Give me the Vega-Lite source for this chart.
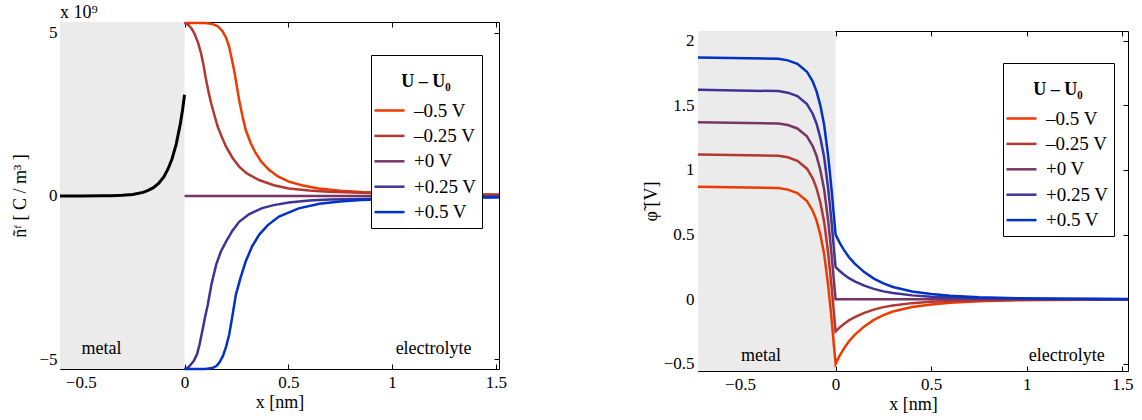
{
  "$schema": "https://vega.github.io/schema/vega-lite/v6.json",
  "padding": {"left": 11, "top": 3, "right": 0, "bottom": 0},
  "background": "white",
  "spacing": 133,
  "resolve": {"scale": {"x": "independent", "y": "independent", "color": "independent"}, "legend": {"color": "independent"}},
  "config": {
    "font": "Liberation Serif",
    "view": {"stroke": "black", "strokeWidth": 1},
    "axis": {"grid": false, "domain": false, "format": "~g", "labelFont": "Liberation Serif", "labelFontSize": 17, "labelColor": "black", "titleFont": "Liberation Serif", "titleFontSize": 18, "titleFontWeight": "normal", "titleColor": "black", "tickColor": "black", "tickWidth": 1, "tickSize": -5},
    "axisBottom": {"labelPadding": 10, "titlePadding": 3},
    "axisLeft": {"labelPadding": 8, "titlePadding": 9},
    "title": {"font": "Liberation Serif"},
    "text": {"font": "Liberation Serif"},
    "legend": {"orient": "none", "titleFont": "Liberation Serif", "titleFontSize": 18, "titleFontWeight": "bold", "titleColor": "black", "titleAnchor": "middle", "titleLineHeight": 13, "labelFont": "Liberation Serif", "labelFontSize": 19, "labelColor": "black", "symbolType": "M-1.5,0H1.5", "symbolSize": 400, "symbolStrokeWidth": 2.5, "symbolOffset": 2, "strokeColor": "black", "fillColor": "white", "padding": 5, "rowPadding": 3.4, "titlePadding": 8, "labelOffset": 13}
  },
  "datasets": {
    "L": [
      {"x":0,"y":5.3,"s":"–0.5 V"},{"x":0.05,"y":5.3,"s":"–0.5 V"},{"x":0.1,"y":5.3,"s":"–0.5 V"},{"x":0.134,"y":5.27,"s":"–0.5 V"},{"x":0.16,"y":5.2,"s":"–0.5 V"},{"x":0.183,"y":5.05,"s":"–0.5 V"},{"x":0.2,"y":4.85,"s":"–0.5 V"},{"x":0.215,"y":4.57,"s":"–0.5 V"},{"x":0.239,"y":3.85,"s":"–0.5 V"},{"x":0.263,"y":2.94,"s":"–0.5 V"},{"x":0.28,"y":2.42,"s":"–0.5 V"},{"x":0.295,"y":2.02,"s":"–0.5 V"},{"x":0.32,"y":1.6,"s":"–0.5 V"},{"x":0.343,"y":1.31,"s":"–0.5 V"},{"x":0.37,"y":1.05,"s":"–0.5 V"},{"x":0.407,"y":0.8,"s":"–0.5 V"},{"x":0.45,"y":0.6,"s":"–0.5 V"},{"x":0.502,"y":0.44,"s":"–0.5 V"},{"x":0.57,"y":0.32,"s":"–0.5 V"},{"x":0.646,"y":0.23,"s":"–0.5 V"},{"x":0.75,"y":0.16,"s":"–0.5 V"},{"x":0.85,"y":0.12,"s":"–0.5 V"},{"x":1.0,"y":0.09,"s":"–0.5 V"},{"x":1.2,"y":0.06,"s":"–0.5 V"},{"x":1.515,"y":0.04,"s":"–0.5 V"},
      {"x":0,"y":5.3,"s":"–0.25 V"},{"x":0.02,"y":5.23,"s":"–0.25 V"},{"x":0.035,"y":5.12,"s":"–0.25 V"},{"x":0.048,"y":4.97,"s":"–0.25 V"},{"x":0.065,"y":4.7,"s":"–0.25 V"},{"x":0.08,"y":4.36,"s":"–0.25 V"},{"x":0.092,"y":3.98,"s":"–0.25 V"},{"x":0.104,"y":3.55,"s":"–0.25 V"},{"x":0.116,"y":3.18,"s":"–0.25 V"},{"x":0.128,"y":2.84,"s":"–0.25 V"},{"x":0.145,"y":2.45,"s":"–0.25 V"},{"x":0.16,"y":2.12,"s":"–0.25 V"},{"x":0.18,"y":1.8,"s":"–0.25 V"},{"x":0.2,"y":1.51,"s":"–0.25 V"},{"x":0.23,"y":1.18,"s":"–0.25 V"},{"x":0.263,"y":0.9,"s":"–0.25 V"},{"x":0.3,"y":0.69,"s":"–0.25 V"},{"x":0.359,"y":0.49,"s":"–0.25 V"},{"x":0.43,"y":0.33,"s":"–0.25 V"},{"x":0.502,"y":0.23,"s":"–0.25 V"},{"x":0.6,"y":0.17,"s":"–0.25 V"},{"x":0.694,"y":0.13,"s":"–0.25 V"},{"x":0.85,"y":0.1,"s":"–0.25 V"},{"x":1.0,"y":0.08,"s":"–0.25 V"},{"x":1.2,"y":0.06,"s":"–0.25 V"},{"x":1.515,"y":0.04,"s":"–0.25 V"},
      {"x":0,"y":0,"s":"+0 V"},{"x":0.5,"y":0,"s":"+0 V"},{"x":1.0,"y":0,"s":"+0 V"},{"x":1.515,"y":0,"s":"+0 V"},
      {"x":0,"y":-5.3,"s":"+0.25 V"},{"x":0.02,"y":-5.24,"s":"+0.25 V"},{"x":0.045,"y":-5.05,"s":"+0.25 V"},{"x":0.06,"y":-4.85,"s":"+0.25 V"},{"x":0.072,"y":-4.56,"s":"+0.25 V"},{"x":0.09,"y":-4.0,"s":"+0.25 V"},{"x":0.1,"y":-3.68,"s":"+0.25 V"},{"x":0.112,"y":-3.33,"s":"+0.25 V"},{"x":0.13,"y":-2.7,"s":"+0.25 V"},{"x":0.152,"y":-2.11,"s":"+0.25 V"},{"x":0.175,"y":-1.7,"s":"+0.25 V"},{"x":0.2,"y":-1.4,"s":"+0.25 V"},{"x":0.23,"y":-1.07,"s":"+0.25 V"},{"x":0.263,"y":-0.79,"s":"+0.25 V"},{"x":0.31,"y":-0.56,"s":"+0.25 V"},{"x":0.374,"y":-0.37,"s":"+0.25 V"},{"x":0.43,"y":-0.28,"s":"+0.25 V"},{"x":0.502,"y":-0.2,"s":"+0.25 V"},{"x":0.6,"y":-0.14,"s":"+0.25 V"},{"x":0.7,"y":-0.11,"s":"+0.25 V"},{"x":0.85,"y":-0.09,"s":"+0.25 V"},{"x":1.0,"y":-0.07,"s":"+0.25 V"},{"x":1.2,"y":-0.055,"s":"+0.25 V"},{"x":1.515,"y":-0.04,"s":"+0.25 V"},
      {"x":0,"y":-5.3,"s":"+0.5 V"},{"x":0.05,"y":-5.3,"s":"+0.5 V"},{"x":0.1,"y":-5.3,"s":"+0.5 V"},{"x":0.134,"y":-5.27,"s":"+0.5 V"},{"x":0.155,"y":-5.2,"s":"+0.5 V"},{"x":0.17,"y":-5.08,"s":"+0.5 V"},{"x":0.185,"y":-4.9,"s":"+0.5 V"},{"x":0.2,"y":-4.62,"s":"+0.5 V"},{"x":0.215,"y":-4.25,"s":"+0.5 V"},{"x":0.23,"y":-3.7,"s":"+0.5 V"},{"x":0.247,"y":-3.03,"s":"+0.5 V"},{"x":0.27,"y":-2.5,"s":"+0.5 V"},{"x":0.295,"y":-2.0,"s":"+0.5 V"},{"x":0.325,"y":-1.55,"s":"+0.5 V"},{"x":0.359,"y":-1.19,"s":"+0.5 V"},{"x":0.4,"y":-0.9,"s":"+0.5 V"},{"x":0.455,"y":-0.63,"s":"+0.5 V"},{"x":0.55,"y":-0.38,"s":"+0.5 V"},{"x":0.65,"y":-0.24,"s":"+0.5 V"},{"x":0.75,"y":-0.17,"s":"+0.5 V"},{"x":0.85,"y":-0.12,"s":"+0.5 V"},{"x":1.0,"y":-0.09,"s":"+0.5 V"},{"x":1.2,"y":-0.06,"s":"+0.5 V"},{"x":1.515,"y":-0.04,"s":"+0.5 V"}
    ],
    "M": [
      {"x":-0.6,"y":0},{"x":-0.5,"y":0.002},{"x":-0.4,"y":0.004},{"x":-0.35,"y":0.009},{"x":-0.3,"y":0.021},{"x":-0.25,"y":0.048},{"x":-0.2,"y":0.11},{"x":-0.175,"y":0.17},{"x":-0.15,"y":0.255},{"x":-0.125,"y":0.385},{"x":-0.1,"y":0.585},{"x":-0.08,"y":0.82},{"x":-0.06,"y":1.14},{"x":-0.04,"y":1.59},{"x":-0.02,"y":2.22},{"x":-0.01,"y":2.62},{"x":0,"y":3.1}
    ],
    "R": [
      {"x":-0.72,"y":0.87,"s":"–0.5 V"},{"x":-0.3,"y":0.86,"s":"–0.5 V"},{"x":-0.25,"y":0.848,"s":"–0.5 V"},{"x":-0.2,"y":0.821,"s":"–0.5 V"},{"x":-0.15,"y":0.76,"s":"–0.5 V"},{"x":-0.12,"y":0.685,"s":"–0.5 V"},{"x":-0.1,"y":0.61,"s":"–0.5 V"},{"x":-0.08,"y":0.5,"s":"–0.5 V"},{"x":-0.06,"y":0.35,"s":"–0.5 V"},{"x":-0.04,"y":0.12,"s":"–0.5 V"},{"x":-0.03,"y":-0.02,"s":"–0.5 V"},{"x":-0.02,"y":-0.17,"s":"–0.5 V"},{"x":-0.01,"y":-0.34,"s":"–0.5 V"},{"x":0,"y":-0.5,"s":"–0.5 V"},
      {"x":0.02,"y":-0.44,"s":"–0.5 V"},{"x":0.04,"y":-0.39,"s":"–0.5 V"},{"x":0.07,"y":-0.325,"s":"–0.5 V"},{"x":0.1,"y":-0.275,"s":"–0.5 V"},{"x":0.15,"y":-0.21,"s":"–0.5 V"},{"x":0.2,"y":-0.16,"s":"–0.5 V"},{"x":0.25,"y":-0.123,"s":"–0.5 V"},{"x":0.3,"y":-0.095,"s":"–0.5 V"},{"x":0.4,"y":-0.06,"s":"–0.5 V"},{"x":0.5,"y":-0.04,"s":"–0.5 V"},{"x":0.6,"y":-0.027,"s":"–0.5 V"},{"x":0.75,"y":-0.015,"s":"–0.5 V"},{"x":0.9,"y":-0.009,"s":"–0.5 V"},{"x":1.1,"y":-0.005,"s":"–0.5 V"},{"x":1.3,"y":-0.003,"s":"–0.5 V"},{"x":1.53,"y":-0.001,"s":"–0.5 V"},
      {"x":-0.72,"y":1.12,"s":"–0.25 V"},{"x":-0.3,"y":1.11,"s":"–0.25 V"},{"x":-0.25,"y":1.098,"s":"–0.25 V"},{"x":-0.2,"y":1.071,"s":"–0.25 V"},{"x":-0.15,"y":1.01,"s":"–0.25 V"},{"x":-0.12,"y":0.935,"s":"–0.25 V"},{"x":-0.1,"y":0.86,"s":"–0.25 V"},{"x":-0.08,"y":0.75,"s":"–0.25 V"},{"x":-0.06,"y":0.6,"s":"–0.25 V"},{"x":-0.04,"y":0.37,"s":"–0.25 V"},{"x":-0.03,"y":0.23,"s":"–0.25 V"},{"x":-0.02,"y":0.08,"s":"–0.25 V"},{"x":-0.01,"y":-0.09,"s":"–0.25 V"},{"x":0,"y":-0.25,"s":"–0.25 V"},
      {"x":0.02,"y":-0.22,"s":"–0.25 V"},{"x":0.04,"y":-0.195,"s":"–0.25 V"},{"x":0.07,"y":-0.163,"s":"–0.25 V"},{"x":0.1,"y":-0.138,"s":"–0.25 V"},{"x":0.15,"y":-0.105,"s":"–0.25 V"},{"x":0.2,"y":-0.08,"s":"–0.25 V"},{"x":0.25,"y":-0.061,"s":"–0.25 V"},{"x":0.3,"y":-0.048,"s":"–0.25 V"},{"x":0.4,"y":-0.03,"s":"–0.25 V"},{"x":0.5,"y":-0.02,"s":"–0.25 V"},{"x":0.6,"y":-0.014,"s":"–0.25 V"},{"x":0.75,"y":-0.008,"s":"–0.25 V"},{"x":0.9,"y":-0.005,"s":"–0.25 V"},{"x":1.1,"y":-0.002,"s":"–0.25 V"},{"x":1.3,"y":-0.001,"s":"–0.25 V"},{"x":1.53,"y":0,"s":"–0.25 V"},
      {"x":-0.72,"y":1.37,"s":"+0 V"},{"x":-0.3,"y":1.36,"s":"+0 V"},{"x":-0.25,"y":1.348,"s":"+0 V"},{"x":-0.2,"y":1.321,"s":"+0 V"},{"x":-0.15,"y":1.26,"s":"+0 V"},{"x":-0.12,"y":1.185,"s":"+0 V"},{"x":-0.1,"y":1.11,"s":"+0 V"},{"x":-0.08,"y":1.0,"s":"+0 V"},{"x":-0.06,"y":0.85,"s":"+0 V"},{"x":-0.04,"y":0.62,"s":"+0 V"},{"x":-0.03,"y":0.48,"s":"+0 V"},{"x":-0.02,"y":0.33,"s":"+0 V"},{"x":-0.01,"y":0.16,"s":"+0 V"},{"x":0,"y":0,"s":"+0 V"},
      {"x":0.5,"y":0,"s":"+0 V"},{"x":1.0,"y":0,"s":"+0 V"},{"x":1.53,"y":0,"s":"+0 V"},
      {"x":-0.72,"y":1.62,"s":"+0.25 V"},{"x":-0.3,"y":1.61,"s":"+0.25 V"},{"x":-0.25,"y":1.598,"s":"+0.25 V"},{"x":-0.2,"y":1.571,"s":"+0.25 V"},{"x":-0.15,"y":1.51,"s":"+0.25 V"},{"x":-0.12,"y":1.435,"s":"+0.25 V"},{"x":-0.1,"y":1.36,"s":"+0.25 V"},{"x":-0.08,"y":1.25,"s":"+0.25 V"},{"x":-0.06,"y":1.1,"s":"+0.25 V"},{"x":-0.04,"y":0.87,"s":"+0.25 V"},{"x":-0.03,"y":0.73,"s":"+0.25 V"},{"x":-0.02,"y":0.58,"s":"+0.25 V"},{"x":-0.01,"y":0.41,"s":"+0.25 V"},{"x":0,"y":0.25,"s":"+0.25 V"},
      {"x":0.02,"y":0.22,"s":"+0.25 V"},{"x":0.04,"y":0.195,"s":"+0.25 V"},{"x":0.07,"y":0.163,"s":"+0.25 V"},{"x":0.1,"y":0.138,"s":"+0.25 V"},{"x":0.15,"y":0.105,"s":"+0.25 V"},{"x":0.2,"y":0.08,"s":"+0.25 V"},{"x":0.25,"y":0.061,"s":"+0.25 V"},{"x":0.3,"y":0.048,"s":"+0.25 V"},{"x":0.4,"y":0.03,"s":"+0.25 V"},{"x":0.5,"y":0.02,"s":"+0.25 V"},{"x":0.6,"y":0.014,"s":"+0.25 V"},{"x":0.75,"y":0.008,"s":"+0.25 V"},{"x":0.9,"y":0.005,"s":"+0.25 V"},{"x":1.1,"y":0.002,"s":"+0.25 V"},{"x":1.3,"y":0.001,"s":"+0.25 V"},{"x":1.53,"y":0,"s":"+0.25 V"},
      {"x":-0.72,"y":1.87,"s":"+0.5 V"},{"x":-0.3,"y":1.86,"s":"+0.5 V"},{"x":-0.25,"y":1.848,"s":"+0.5 V"},{"x":-0.2,"y":1.821,"s":"+0.5 V"},{"x":-0.15,"y":1.76,"s":"+0.5 V"},{"x":-0.12,"y":1.685,"s":"+0.5 V"},{"x":-0.1,"y":1.61,"s":"+0.5 V"},{"x":-0.08,"y":1.5,"s":"+0.5 V"},{"x":-0.06,"y":1.35,"s":"+0.5 V"},{"x":-0.04,"y":1.12,"s":"+0.5 V"},{"x":-0.03,"y":0.98,"s":"+0.5 V"},{"x":-0.02,"y":0.83,"s":"+0.5 V"},{"x":-0.01,"y":0.66,"s":"+0.5 V"},{"x":0,"y":0.5,"s":"+0.5 V"},
      {"x":0.02,"y":0.44,"s":"+0.5 V"},{"x":0.04,"y":0.39,"s":"+0.5 V"},{"x":0.07,"y":0.325,"s":"+0.5 V"},{"x":0.1,"y":0.275,"s":"+0.5 V"},{"x":0.15,"y":0.21,"s":"+0.5 V"},{"x":0.2,"y":0.16,"s":"+0.5 V"},{"x":0.25,"y":0.123,"s":"+0.5 V"},{"x":0.3,"y":0.095,"s":"+0.5 V"},{"x":0.4,"y":0.06,"s":"+0.5 V"},{"x":0.5,"y":0.04,"s":"+0.5 V"},{"x":0.6,"y":0.027,"s":"+0.5 V"},{"x":0.75,"y":0.015,"s":"+0.5 V"},{"x":0.9,"y":0.009,"s":"+0.5 V"},{"x":1.1,"y":0.005,"s":"+0.5 V"},{"x":1.3,"y":0.003,"s":"+0.5 V"},{"x":1.53,"y":0.001,"s":"+0.5 V"}
    ]
  },
  "hconcat": [
    {
      "width": 439,
      "height": 347,
      "title": {"text": "x 10⁹", "anchor": "start", "frame": "group", "font": "Liberation Serif", "fontSize": 18, "fontWeight": "normal", "color": "black", "offset": -4},
      "resolve": {"axis": {"x": "independent", "y": "independent"}},
      "layer": [
        {
          "data": {"values": [{"a": -0.6, "b": 0}]},
          "mark": {"type": "rect", "color": "#ebebeb"},
          "encoding": {
            "x": {"field": "a", "type": "quantitative", "scale": {"domain": [-0.6, 1.515], "nice": false, "zero": false}, "axis": null},
            "x2": {"field": "b"}
          }
        },
        {
          "data": {"name": "L"},
          "mark": {"type": "line", "strokeWidth": 2.5},
          "encoding": {
            "x": {"field": "x", "type": "quantitative", "scale": {"domain": [-0.6, 1.515], "nice": false, "zero": false}, "axis": {"title": "x  [nm]", "values": [-0.5, 0, 0.5, 1, 1.5]}},
            "y": {"field": "y", "type": "quantitative", "scale": {"domain": [-5.3, 5.33], "nice": false, "zero": false}, "axis": {"title": "ñᶠ  [ C / m³ ]", "values": [-5, 0, 5]}},
            "color": {"field": "s", "type": "nominal", "scale": {"domain": ["–0.5 V", "–0.25 V", "+0 V", "+0.25 V", "+0.5 V"], "range": ["#ee3a00", "#b23832", "#773664", "#3c3496", "#0032c8"]}, "legend": {"title": ["", "U – U₀"], "legendX": 311, "legendY": 33}}
          }
        },
        {
          "data": {"name": "M"},
          "mark": {"type": "line", "strokeWidth": 3, "color": "black"},
          "encoding": {
            "x": {"field": "x", "type": "quantitative", "axis": null},
            "y": {"field": "y", "type": "quantitative", "axis": null}
          }
        },
        {
          "data": {"values": [{"x": -0.4, "y": -4.69, "t": "metal"}, {"x": 1.2, "y": -4.69, "t": "electrolyte"}]},
          "mark": {"type": "text", "font": "Liberation Serif", "fontSize": 18, "color": "black"},
          "encoding": {
            "x": {"field": "x", "type": "quantitative", "axis": {"orient": "top", "labels": false, "title": null, "values": [-0.5, 0, 0.5, 1, 1.5]}},
            "y": {"field": "y", "type": "quantitative", "axis": {"orient": "right", "labels": false, "title": null, "values": [-5, 0, 5]}},
            "text": {"field": "t"}
          }
        }
      ]
    },
    {
      "spacing": 7,
      "resolve": {"scale": {"color": "independent"}, "legend": {"color": "independent"}},
      "vconcat": [
        {
          "width": 430,
          "height": 1,
          "view": {"stroke": null},
          "data": {"values": []},
          "mark": {"type": "text"},
          "encoding": {}
        },
        {
          "width": 430,
          "height": 340,
          "resolve": {"axis": {"x": "independent", "y": "independent"}},
          "layer": [
            {
              "data": {"values": [{"a": -0.72, "b": 0}]},
              "mark": {"type": "rect", "color": "#ebebeb"},
              "encoding": {
                "x": {"field": "a", "type": "quantitative", "scale": {"domain": [-0.72, 1.53], "nice": false, "zero": false}, "axis": null},
                "x2": {"field": "b"}
              }
            },
            {
              "data": {"name": "R"},
              "mark": {"type": "line", "strokeWidth": 2.5},
              "encoding": {
                "x": {"field": "x", "type": "quantitative", "scale": {"domain": [-0.72, 1.53], "nice": false, "zero": false}, "axis": {"title": "x  [nm]", "values": [-0.5, 0, 0.5, 1, 1.5]}},
                "y": {"field": "y", "type": "quantitative", "scale": {"domain": [-0.555, 2.075], "nice": false, "zero": false}, "axis": {"title": "φ̃   [V]", "values": [-0.5, 0, 0.5, 1, 1.5, 2], "labelPadding": 9, "titlePadding": 3}},
                "color": {"field": "s", "type": "nominal", "scale": {"domain": ["–0.5 V", "–0.25 V", "+0 V", "+0.25 V", "+0.5 V"], "range": ["#ee3a00", "#b23832", "#773664", "#3c3496", "#0032c8"]}, "legend": {"title": ["", "U – U₀"], "legendX": 305, "legendY": 32}}
              }
            },
            {
              "data": {"values": [{"x": -0.39, "y": -0.44, "t": "metal"}, {"x": 1.21, "y": -0.44, "t": "electrolyte"}]},
              "mark": {"type": "text", "font": "Liberation Serif", "fontSize": 18, "color": "black"},
              "encoding": {
                "x": {"field": "x", "type": "quantitative", "axis": {"orient": "top", "labels": false, "title": null, "values": [-0.5, 0, 0.5, 1, 1.5]}},
                "y": {"field": "y", "type": "quantitative", "axis": {"orient": "right", "labels": false, "title": null, "values": [-0.5, 0, 0.5, 1, 1.5, 2]}},
                "text": {"field": "t"}
              }
            }
          ]
        }
      ]
    }
  ]
}
